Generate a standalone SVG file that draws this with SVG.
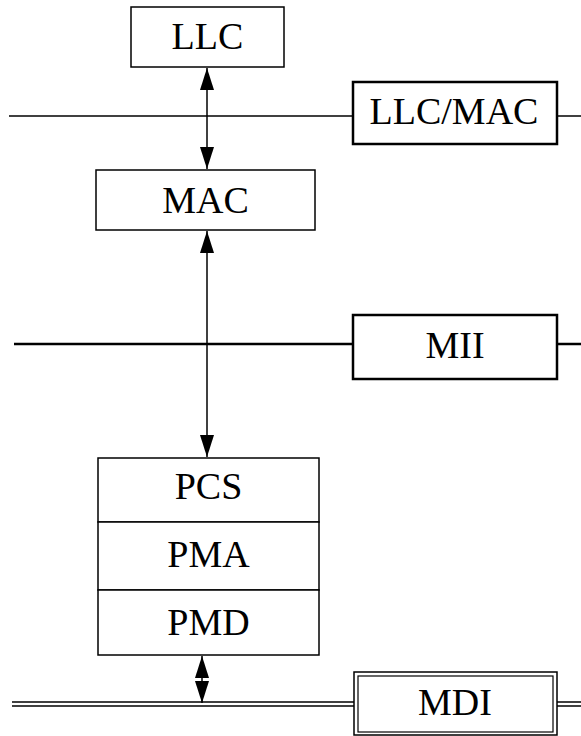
<svg xmlns="http://www.w3.org/2000/svg" width="581" height="736" viewBox="0 0 581 736">
<defs>
<style>
.box{fill:#fff;stroke:#000;stroke-width:1.5}
.bold{fill:#fff;stroke:#000;stroke-width:2.5}
.thin{fill:none;stroke:#000;stroke-width:1.2}
.ln{stroke:#000;stroke-width:1.5;fill:none}
.lnb{stroke:#000;stroke-width:2.5;fill:none}
.t{font-family:"Liberation Serif","Times New Roman",serif;font-size:38px;text-anchor:middle;fill:#000}
</style>
<marker id="ah" markerUnits="userSpaceOnUse" markerWidth="22" markerHeight="14" viewBox="0 0 22 14" refX="22" refY="7" orient="auto-start-reverse">
<path d="M0,0 L22,7 L0,14 Z" fill="#000"/>
</marker>
</defs>
<g id="connectors">
<line class="ln" x1="207" y1="68" x2="207" y2="169" marker-start="url(#ah)" marker-end="url(#ah)"/>
<line class="ln" x1="207" y1="231" x2="207" y2="457" marker-start="url(#ah)" marker-end="url(#ah)"/>
<line class="ln" x1="202" y1="656" x2="202" y2="703" marker-start="url(#ah)" marker-end="url(#ah)"/>
</g>
<g id="llcmac-line">
<line class="ln" x1="9" y1="116" x2="352" y2="116"/>
<line class="ln" x1="557" y1="116" x2="581" y2="116"/>
</g>
<g id="mii-line">
<line class="lnb" x1="14" y1="344" x2="353" y2="344"/>
<line class="lnb" x1="557" y1="344" x2="581" y2="344"/>
</g>
<g id="mdi-line">
<line class="ln" x1="12" y1="702" x2="354" y2="702"/>
<line class="ln" x1="12" y1="706" x2="354" y2="706"/>
<line class="ln" x1="557" y1="702" x2="581" y2="702"/>
<line class="ln" x1="557" y1="706" x2="581" y2="706"/>
</g>
<g id="llc">
<rect class="box" x="131" y="7" width="153" height="60"/>
<text class="t" x="207.5" y="49">LLC</text>
</g>
<g id="llc-mac">
<rect class="bold" x="353" y="82" width="204" height="62"/>
<text class="t" x="454" y="124">LLC/MAC</text>
</g>
<g id="mac">
<rect class="box" x="96" y="170" width="219" height="60"/>
<text class="t" x="205.5" y="213">MAC</text>
</g>
<g id="mii">
<rect class="bold" x="353" y="315" width="204" height="64"/>
<text class="t" x="455" y="358">MII</text>
</g>
<g id="pcs">
<rect class="box" x="98" y="458" width="221" height="64"/>
<text class="t" x="208.5" y="499">PCS</text>
</g>
<g id="pma">
<rect class="box" x="98" y="522" width="221" height="68"/>
<text class="t" x="208.5" y="567">PMA</text>
</g>
<g id="pmd">
<rect class="box" x="98" y="590" width="221" height="65"/>
<text class="t" x="208.5" y="635">PMD</text>
</g>
<g id="mdi">
<rect class="box" x="354" y="672" width="203" height="63"/>
<rect class="thin" x="358" y="676" width="195" height="56"/>
<text class="t" x="455" y="715">MDI</text>
</g>
</svg>
